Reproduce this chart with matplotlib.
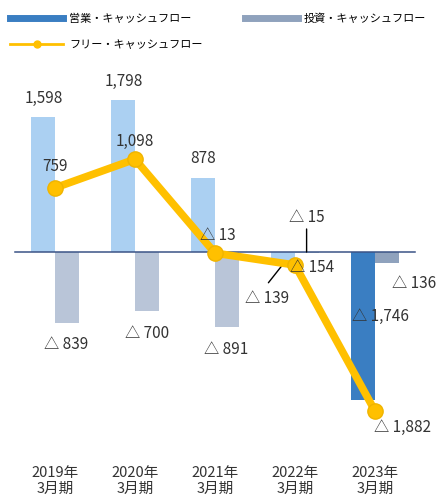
import matplotlib.pyplot as plt
from matplotlib.lines import Line2D

plt.rcParams['font.family'] = ['Noto Sans CJK JP', 'DejaVu Sans']

# キャッシュフロー推移（百万円）
years = ['2019年\n3月期', '2020年\n3月期', '2021年\n3月期', '2022年\n3月期', '2023年\n3月期']
operating_cf = [1598, 1798, 878, -139, -1746]
investing_cf = [-839, -700, -891, -15, -136]
free_cf = [759, 1098, -13, -154, -1882]


def fmt(v):
    return f'{v:,}' if v >= 0 else f'△ {abs(v):,}'


fig = plt.figure(figsize=(4.36, 4.95), dpi=100)
# 1px = 1/100 inch, 軸は上50px〜下455pxの範囲
ax = fig.add_axes([0, (495 - 455) / 495, 1, (455 - 50) / 495])

px_per_unit = 0.0845
ax.set_xlim(-55 / 80, (436 - 55) / 80)
ax.set_ylim(-(455 - 252) / px_per_unit, (252 - 50) / px_per_unit)

x = list(range(len(years)))
w = 0.30
off = 0.145

op_colors = ['#abd0f2'] * 4 + ['#3a7ec2']
inv_colors = ['#b9c5d8'] * 4 + ['#8fa2bd']

ax.bar([i - off for i in x], operating_cf, width=w, color=op_colors, zorder=2)
ax.bar([i + off for i in x], investing_cf, width=w, color=inv_colors, zorder=2)

ax.plot([-0.5, 4.5], [0, 0], color='#3b5486', lw=1.1, zorder=3)

ax.plot(x, free_cf, color='#ffc000', lw=5.5, marker='o', markersize=11,
        markerfacecolor='#ffc000', markeredgecolor='#f0b400', zorder=4)

txt = dict(fontsize=11, color='#333333', textcoords='offset pixels', zorder=6)

# 営業CF
for i, v in enumerate(operating_cf[:3]):
    ax.annotate(fmt(v), (i - off, v), xytext=(0, 19), ha='center', va='center', **txt)
ax.annotate(fmt(operating_cf[3]), (3 - off, operating_cf[3]), xytext=(-16, -35),
            ha='center', va='center', **txt)
ax.annotate(fmt(operating_cf[4]), (4 - off, operating_cf[4] / 2), xytext=(17, 9),
            ha='center', va='center', **txt)

# 投資CF
for i, v in enumerate(investing_cf[:3]):
    ax.annotate(fmt(v), (i + off, v), xytext=(0, -22), ha='center', va='center', **txt)
ax.annotate(fmt(investing_cf[3]), (3 + off, 0), xytext=(0, 35),
            ha='center', va='center', **txt)
ax.annotate(fmt(investing_cf[4]), (4 + off, investing_cf[4]), xytext=(5, -20),
            ha='left', va='center', **txt)

# フリーCF
free_offsets = [(0, 21, 'center'), (0, 18, 'center'), (3, 18, 'center'),
                (-5, -2, 'left'), (28, -16, 'center')]
for i, v in enumerate(free_cf):
    dx, dy, ha = free_offsets[i]
    ax.annotate(fmt(v), (i, v), xytext=(dx, dy), ha=ha, va='center', **txt)

# 引き出し線
ax.annotate('', (3 + off, 0), xytext=(0, 23), textcoords='offset pixels',
            arrowprops=dict(arrowstyle='-', color='black', lw=1, shrinkA=0, shrinkB=0))
ax.annotate('', (3 - off, operating_cf[3]), xytext=(-15, -19), textcoords='offset pixels',
            arrowprops=dict(arrowstyle='-', color='black', lw=1, shrinkA=0, shrinkB=0))

ax.set_xticks(x)
ax.set_xticklabels(years, fontsize=10.5, color='#333333', linespacing=1.2)
ax.tick_params(axis='x', length=0, pad=8)
ax.set_yticks([])
for s in ax.spines.values():
    s.set_visible(False)

handles = [
    Line2D([], [], color='#3a7ec2', lw=5),
    Line2D([], [], color='#ffc000', lw=2, marker='o', markersize=5),
    Line2D([], [], color='#8fa2bd', lw=5),
]
labels = ['営業・キャッシュフロー', 'フリー・キャッシュフロー', '投資・キャッシュフロー']
fig.legend(handles, labels, ncol=2, loc='upper left', bbox_to_anchor=(0.023, 0.973),
           frameon=False, fontsize=8, handlelength=4.8, handletextpad=0.5,
           columnspacing=3.8, labelspacing=1.45, borderaxespad=0.0, borderpad=0.0)

fig.savefig('out.png', dpi=100)
